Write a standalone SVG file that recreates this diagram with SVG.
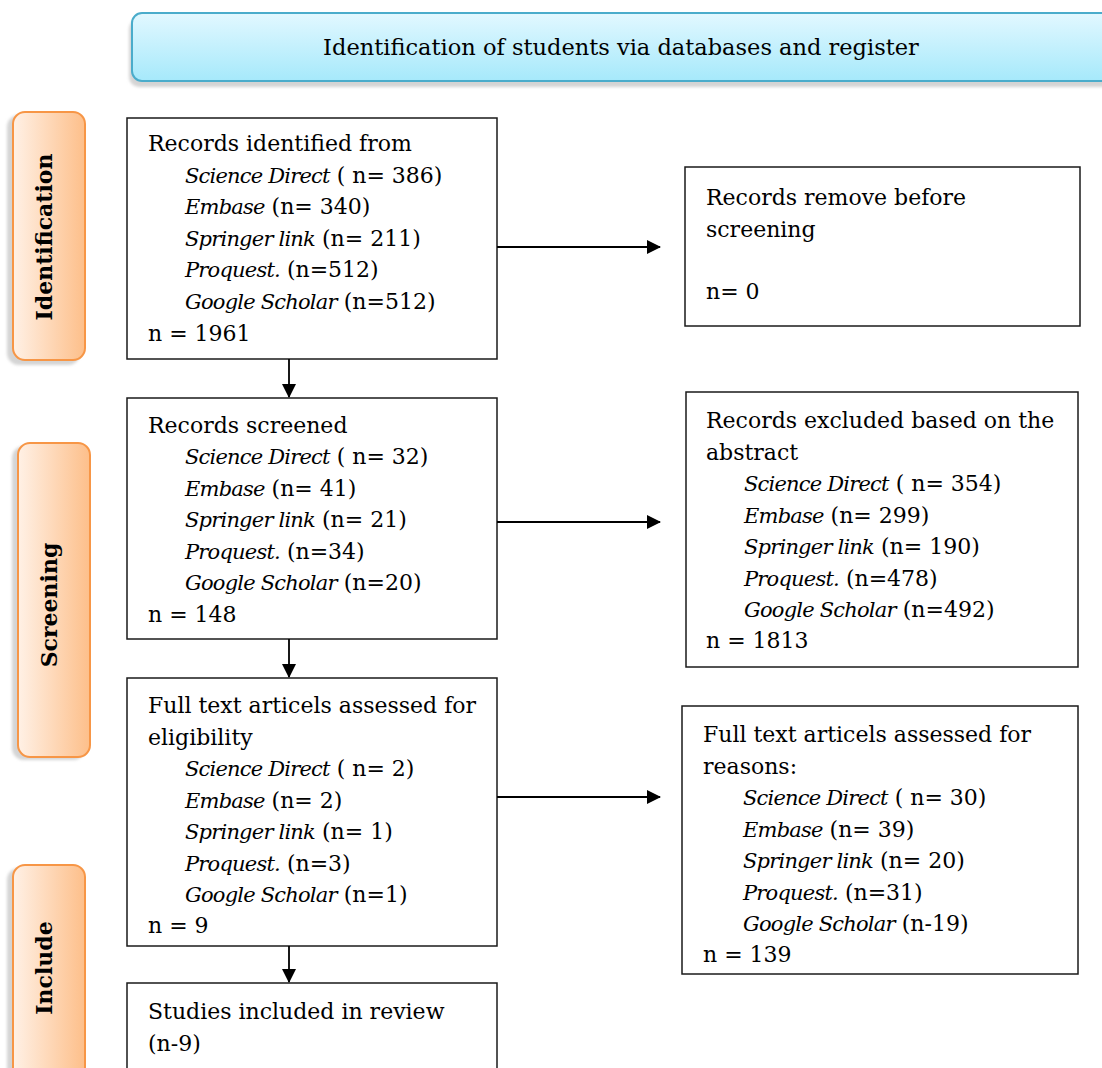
<svg xmlns="http://www.w3.org/2000/svg" width="1102" height="1068" viewBox="0 0 1102 1068">
<style>
.bx{fill:#fff;stroke:#1a1a1a;stroke-width:1.5}
.t{font-family:"DejaVu Serif","Liberation Serif",serif;font-size:22px;fill:#000}
.i{font-style:italic;font-size:21px;letter-spacing:-0.8px}
.ph{fill:url(#og);stroke:#f79646;stroke-width:2}
.sh{fill:#d4d4d4}
.pt{font-family:"DejaVu Serif","Liberation Serif",serif;font-size:22px;font-weight:bold;fill:#000}
.c{stroke:#000;stroke-width:1.8;fill:none}
</style>
<defs>
<linearGradient id="og" x1="0" y1="0" x2="1" y2="0"><stop offset="0" stop-color="#fff1e6"/><stop offset="1" stop-color="#fdbf8a"/></linearGradient>
<linearGradient id="bg" x1="0" y1="0" x2="0" y2="1"><stop offset="0" stop-color="#e2f8ff"/><stop offset="1" stop-color="#a6e9fb"/></linearGradient>
<filter id="bl" x="-10%" y="-10%" width="120%" height="120%"><feGaussianBlur stdDeviation="1.5"/></filter>
<marker id="ah" markerWidth="14" markerHeight="14" refX="13" refY="7" orient="auto" markerUnits="userSpaceOnUse"><path d="M0,0 L14,7 L0,14 Z" fill="#000"/></marker>
</defs>
<g id="header">
<rect x="129" y="19" width="990" height="68" rx="10" class="sh" filter="url(#bl)"/>
<rect x="132" y="13" width="990" height="68" rx="10" fill="url(#bg)" stroke="#4aaccb" stroke-width="2"/>
<text x="621" y="55" text-anchor="middle" font-family="DejaVu Serif,Liberation Serif,serif" font-size="22.5">Identification of students via databases and register</text>
</g>
<g id="phase-identification">
<rect x="7" y="115" width="73" height="250" rx="12" class="sh" filter="url(#bl)"/>
<rect x="13" y="112" width="72" height="248" rx="12" class="ph"/>
<text class="pt" transform="translate(52,237) rotate(-90)" text-anchor="middle">Identification</text>
</g>
<g id="phase-screening">
<rect x="12" y="446" width="73" height="314" rx="12" class="sh" filter="url(#bl)"/>
<rect x="18" y="443" width="72" height="314" rx="12" class="ph"/>
<text class="pt" transform="translate(57,605) rotate(-90)" text-anchor="middle">Screening</text>
</g>
<g id="phase-include">
<rect x="7" y="868" width="73" height="220" rx="12" class="sh" filter="url(#bl)"/>
<rect x="13" y="865" width="72" height="220" rx="12" class="ph"/>
<text class="pt" transform="translate(52,968) rotate(-90)" text-anchor="middle">Include</text>
</g>
<g id="box-identified">
<rect x="127" y="118" width="370" height="241" class="bx"/>
<text class="t" x="148" y="151">Records identified from</text>
<text class="t" x="185" y="183"><tspan class="i">Science Direct</tspan> ( n= 386)</text>
<text class="t" x="185" y="214"><tspan class="i">Embase</tspan> (n= 340)</text>
<text class="t" x="185" y="246"><tspan class="i">Springer link</tspan> (n= 211)</text>
<text class="t" x="185" y="277"><tspan class="i">Proquest.</tspan> (n=512)</text>
<text class="t" x="185" y="309"><tspan class="i">Google Scholar</tspan> (n=512)</text>
<text class="t" x="148" y="341">n = 1961</text>
</g>
<g id="box-removed">
<rect x="685" y="167" width="395" height="159" class="bx"/>
<text class="t" x="706" y="205">Records remove before</text>
<text class="t" x="706" y="237">screening</text>
<text class="t" x="706" y="299">n= 0</text>
</g>
<g id="box-screened">
<rect x="127" y="398" width="370" height="241" class="bx"/>
<text class="t" x="148" y="433">Records screened</text>
<text class="t" x="185" y="464"><tspan class="i">Science Direct</tspan> ( n= 32)</text>
<text class="t" x="185" y="496"><tspan class="i">Embase</tspan> (n= 41)</text>
<text class="t" x="185" y="527"><tspan class="i">Springer link</tspan> (n= 21)</text>
<text class="t" x="185" y="559"><tspan class="i">Proquest.</tspan> (n=34)</text>
<text class="t" x="185" y="590"><tspan class="i">Google Scholar</tspan> (n=20)</text>
<text class="t" x="148" y="622">n = 148</text>
</g>
<g id="box-excluded">
<rect x="686" y="392" width="392" height="275" class="bx"/>
<text class="t" x="706" y="428">Records excluded based on the</text>
<text class="t" x="706" y="460">abstract</text>
<text class="t" x="744" y="491"><tspan class="i">Science Direct</tspan> ( n= 354)</text>
<text class="t" x="744" y="523"><tspan class="i">Embase</tspan> (n= 299)</text>
<text class="t" x="744" y="554"><tspan class="i">Springer link</tspan> (n= 190)</text>
<text class="t" x="744" y="586"><tspan class="i">Proquest.</tspan> (n=478)</text>
<text class="t" x="744" y="617"><tspan class="i">Google Scholar</tspan> (n=492)</text>
<text class="t" x="706" y="648">n = 1813</text>
</g>
<g id="box-fulltext">
<rect x="127" y="678" width="370" height="268" class="bx"/>
<text class="t" x="148" y="713">Full text articels assessed for</text>
<text class="t" x="148" y="745">eligibility</text>
<text class="t" x="185" y="776"><tspan class="i">Science Direct</tspan> ( n= 2)</text>
<text class="t" x="185" y="808"><tspan class="i">Embase</tspan> (n= 2)</text>
<text class="t" x="185" y="839"><tspan class="i">Springer link</tspan> (n= 1)</text>
<text class="t" x="185" y="871"><tspan class="i">Proquest.</tspan> (n=3)</text>
<text class="t" x="185" y="902"><tspan class="i">Google Scholar</tspan> (n=1)</text>
<text class="t" x="148" y="933">n = 9</text>
</g>
<g id="box-reasons">
<rect x="682" y="706" width="396" height="268" class="bx"/>
<text class="t" x="703" y="742">Full text articels assessed for</text>
<text class="t" x="703" y="774">reasons:</text>
<text class="t" x="743" y="805"><tspan class="i">Science Direct</tspan> ( n= 30)</text>
<text class="t" x="743" y="837"><tspan class="i">Embase</tspan> (n= 39)</text>
<text class="t" x="743" y="868"><tspan class="i">Springer link</tspan> (n= 20)</text>
<text class="t" x="743" y="900"><tspan class="i">Proquest.</tspan> (n=31)</text>
<text class="t" x="743" y="931"><tspan class="i">Google Scholar</tspan> (n-19)</text>
<text class="t" x="703" y="962">n = 139</text>
</g>
<g id="box-included">
<rect x="127" y="983" width="370" height="100" class="bx"/>
<text class="t" x="148" y="1019">Studies included in review</text>
<text class="t" x="148" y="1051">(n-9)</text>
</g>
<g id="connectors">
<line class="c" x1="289" y1="359" x2="289" y2="397" marker-end="url(#ah)"/>
<line class="c" x1="289" y1="639" x2="289" y2="677" marker-end="url(#ah)"/>
<line class="c" x1="289" y1="946" x2="289" y2="982" marker-end="url(#ah)"/>
<line class="c" x1="497" y1="247" x2="660" y2="247" marker-end="url(#ah)"/>
<line class="c" x1="497" y1="522" x2="660" y2="522" marker-end="url(#ah)"/>
<line class="c" x1="497" y1="797" x2="660" y2="797" marker-end="url(#ah)"/>
</g>
</svg>
